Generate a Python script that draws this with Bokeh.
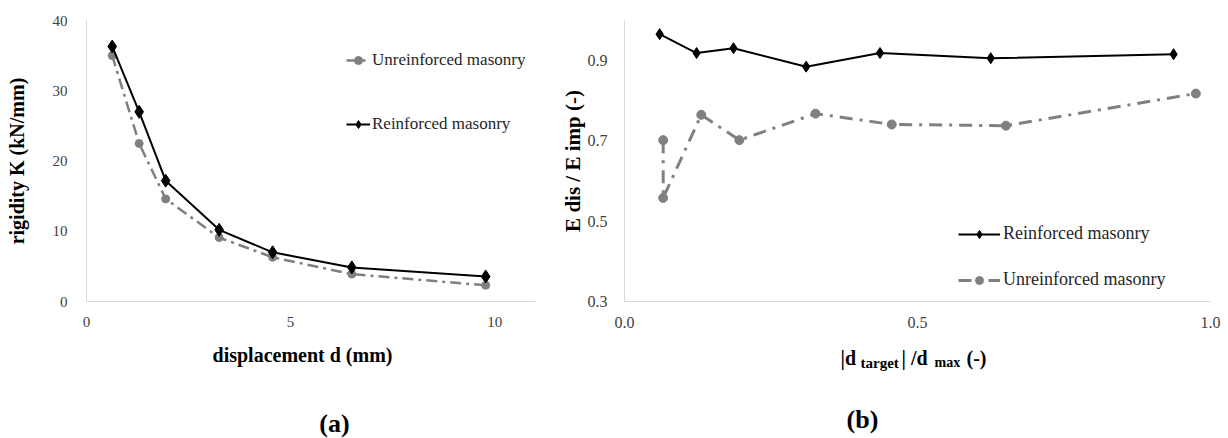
import numpy as np
from bokeh.plotting import figure
from bokeh.layouts import row, column
from bokeh.models import Label, Legend, LegendItem, FixedTicker, NumeralTickFormatter, Range1d
from bokeh.embed import file_html
from bokeh.resources import INLINE

# ---------------- data ----------------
# (a) rigidity vs displacement
disp_mm = [0.63, 1.29, 1.94, 3.25, 4.56, 6.50, 9.78]
K_reinforced = [36.3, 27.0, 17.2, 10.2, 7.0, 4.85, 3.55]
K_unreinforced = [35.0, 22.5, 14.6, 9.1, 6.3, 3.9, 2.3]

# (b) energy ratio vs normalised displacement
ratio_reinforced = [0.060, 0.123, 0.186, 0.310, 0.436, 0.625, 0.937]
E_reinforced = [0.966, 0.919, 0.931, 0.885, 0.919, 0.906, 0.916]
ratio_unreinforced = [0.066, 0.066, 0.131, 0.196, 0.326, 0.456, 0.651, 0.975]
E_unreinforced = [0.702, 0.558, 0.765, 0.702, 0.768, 0.741, 0.738, 0.818]

left_xticks = [0, 5, 10]
left_yticks = [0, 10, 20, 30, 40]
right_xticks = [0.0, 0.5, 1.0]
right_yticks = [0.3, 0.5, 0.7, 0.9]

GRAY = "#808080"
BLACK = "#000000"
AXIS = "#d9d9d9"
TICK_TXT = "#404040"
FONT = "Liberation Serif"

TOTAL_W, TOTAL_H = 1228, 438
CHART_H = 335


def style_axes(p, xticks, yticks, fmt, size, xstand, ystand, ylabel, ylabel_size, ylabel_standoff):
    p.xgrid.visible = False
    p.ygrid.visible = False
    p.outline_line_color = None
    for ax, ticks, st in ((p.xaxis[0], xticks, xstand), (p.yaxis[0], yticks, ystand)):
        ax.ticker = FixedTicker(ticks=ticks)
        if fmt:
            ax.formatter = NumeralTickFormatter(format=fmt)
        ax.axis_line_color = AXIS
        ax.axis_line_width = 1
        ax.major_tick_line_color = None
        ax.minor_tick_line_color = None
        ax.major_label_text_font = FONT
        ax.major_label_text_font_size = size
        ax.major_label_text_color = TICK_TXT
        ax.major_label_standoff = st
    ya = p.yaxis[0]
    ya.axis_label = ylabel
    ya.axis_label_text_font = FONT
    ya.axis_label_text_font_size = ylabel_size
    ya.axis_label_text_font_style = "bold"
    ya.axis_label_text_color = "black"
    ya.axis_label_standoff = ylabel_standoff


# ---------------- (a) ----------------
L_W = 545
L_FL, L_FR, L_FT, L_FB = 86, 535, 20, 303
p1 = figure(width=L_W, height=CHART_H, title=None, output_backend="svg", toolbar_location=None,
            x_range=Range1d(0, 11), y_range=Range1d(0, 40),
            min_border_left=L_FL, min_border_right=L_W - L_FR,
            min_border_top=L_FT, min_border_bottom=CHART_H - L_FB)
style_axes(p1, left_xticks, left_yticks, None, "15px", 9, 13,
           "rigidity K (kN/mm)", "20px", 22)

u1 = p1.line(disp_mm, K_unreinforced, line_color=GRAY, line_width=2.5, line_dash="11 5 3 5")
u1m = p1.scatter(disp_mm, K_unreinforced, marker="circle", size=8, fill_color=GRAY, line_color=GRAY)
r1 = p1.line(disp_mm, K_reinforced, line_color=BLACK, line_width=2)
r1m = p1.scatter(disp_mm, K_reinforced, marker="diamond", size=13,
                 fill_color=BLACK, line_color=BLACK)

leg1 = Legend(items=[LegendItem(label="Unreinforced masonry", renderers=[u1, u1m]),
                     LegendItem(label="Reinforced masonry", renderers=[r1, r1m])],
              location=(260, 167), orientation="vertical", spacing=44, padding=0, margin=0,
              glyph_width=24, glyph_height=20, label_height=20, label_standoff=2,
              border_line_alpha=0, background_fill_alpha=0,
              label_text_font=FONT, label_text_font_size="17px", label_text_color="#262626")
p1.add_layout(leg1)

# ---------------- (b) ----------------
R_W = TOTAL_W - L_W
R_FL, R_FR, R_FT, R_FB = 624 - L_W, 1210 - L_W, 12, 301
p2 = figure(width=R_W, height=CHART_H, title=None, output_backend="svg", toolbar_location=None,
            x_range=Range1d(0, 1.0), y_range=Range1d(0.3, 1.0),
            min_border_left=R_FL, min_border_right=R_W - R_FR,
            min_border_top=R_FT, min_border_bottom=CHART_H - R_FB)
style_axes(p2, right_xticks, right_yticks, "0.0", "16px", 9, 11,
           "E dis / E imp (-)", "21px", 0)

r2 = p2.line(ratio_reinforced, E_reinforced, line_color=BLACK, line_width=2)
r2m = p2.scatter(ratio_reinforced, E_reinforced, marker="diamond", size=11,
                 fill_color=BLACK, line_color=BLACK)
u2 = p2.line(ratio_unreinforced, E_unreinforced, line_color=GRAY, line_width=3, line_dash="13 7 3 7")
u2m = p2.scatter(ratio_unreinforced, E_unreinforced, marker="circle", size=9,
                 fill_color=GRAY, line_color=GRAY)

leg2 = Legend(items=[LegendItem(label="Reinforced masonry", renderers=[r2, r2m]),
                     LegendItem(label="Unreinforced masonry", renderers=[u2, u2m])],
              location=(334, 11), orientation="vertical", spacing=25, padding=0, margin=0,
              glyph_width=42, glyph_height=20, label_height=20, label_standoff=3,
              border_line_alpha=0, background_fill_alpha=0,
              label_text_font=FONT, label_text_font_size="18px", label_text_color="#262626")
p2.add_layout(leg2)

# ---------------- captions strip (x titles and panel letters) ----------------
STRIP_H = TOTAL_H - CHART_H
t = figure(width=TOTAL_W, height=STRIP_H, title=None, output_backend="svg", toolbar_location=None,
           x_range=Range1d(0, 1), y_range=Range1d(0, 1), x_axis_type=None, y_axis_type=None,
           min_border=0, min_border_left=0, min_border_right=0, min_border_top=0, min_border_bottom=0)
t.outline_line_color = None

Y_SHIFT = 8  # measured offset of the strip's baseline placement


def add_text(X, Y, text, size, align="left"):
    # X, Y: page pixel position of the text's baseline anchor
    t.add_layout(Label(x=X, y=TOTAL_H - Y + Y_SHIFT, x_units="screen", y_units="screen",
                       text=text, text_font=FONT, text_font_size=f"{size}px",
                       text_font_style="bold", text_align=align, text_baseline="alphabetic",
                       text_color="black"))


add_text(302, 362, "displacement d (mm)", 20, align="center")
add_text(334, 431, "(a)", 26, align="center")

add_text(840, 365, "|d", 20)
add_text(860, 370, "target", 15)
add_text(901, 365, "| /d", 20)
add_text(934, 370, "max", 14)
add_text(966, 365, "(-)", 20)
add_text(862, 427, "(b)", 26, align="center")

layout = column(row(p1, p2), t)
open("out.html", "w").write(file_html(layout, INLINE))
